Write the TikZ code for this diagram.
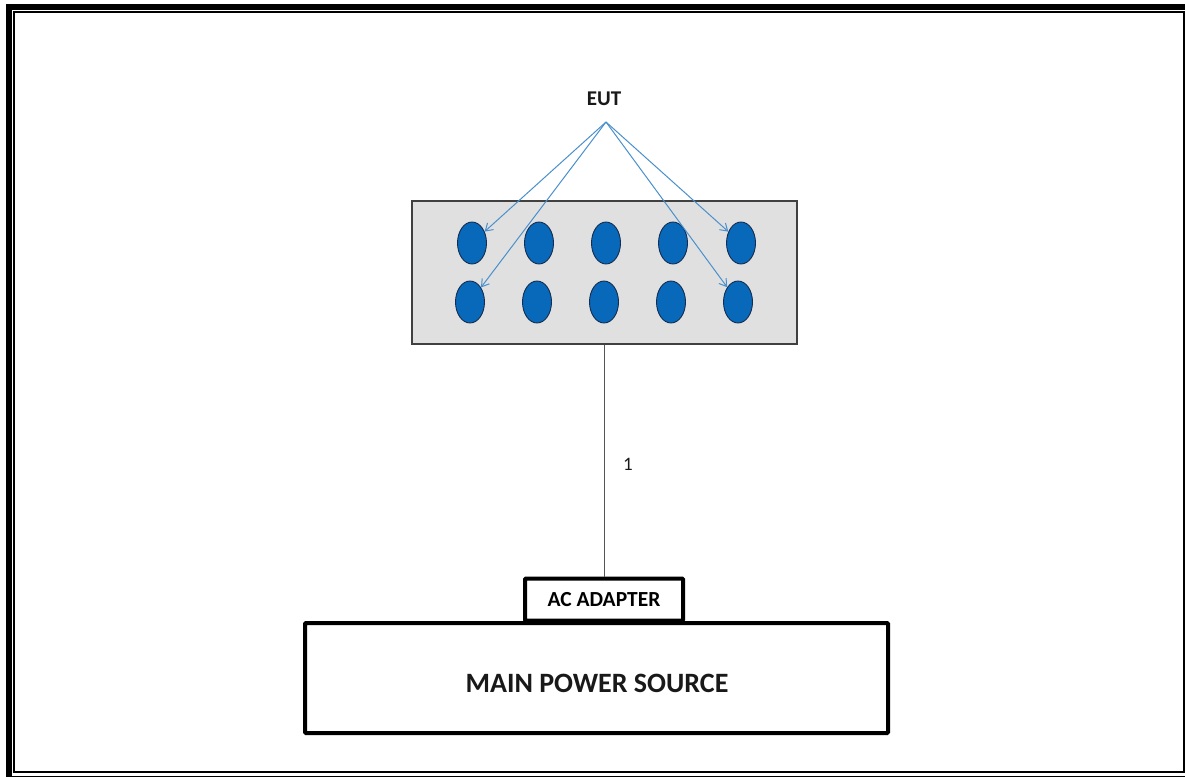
\documentclass[tikz,border=0pt]{standalone}
\usepackage{fontspec}
\setmainfont{Carlito}
\usetikzlibrary{shapes.geometric,arrows.meta}
\definecolor{arrowblue}{RGB}{74,144,205}
\definecolor{dotblue}{RGB}{8,104,186}
\definecolor{dotedge}{RGB}{20,45,80}
\definecolor{panelfill}{RGB}{224,224,224}
\definecolor{paneledge}{RGB}{64,64,64}
\definecolor{wire}{RGB}{85,85,85}
\tikzset{
  dot/.style={ellipse, draw=dotedge, line width=0.9pt, fill=dotblue, minimum width=29pt, minimum height=42pt, inner sep=0pt},
  eutarrow/.style={draw=arrowblue, line width=1pt, -{Straight Barb[length=7pt,width=9pt]}},
  heavybox/.style={draw=black, line width=4pt, rounded corners=1pt, fill=white, inner sep=0pt},
  lbl/.style={text=black!90}
}
\begin{document}
\begin{tikzpicture}[x=1pt,y=-1pt]
\useasboundingbox (0,0) rectangle (1185,776);
\clip (0,0) rectangle (1185,776);
\fill[white] (0,0) rectangle (1185,776);
% page border
\draw[line width=6pt] (8.5,7) rectangle (1195,778.5);
\draw[line width=2pt] (14,12) rectangle (1183.5,771.5);
% panel
\node[draw=paneledge, line width=1.5pt, fill=panelfill, minimum width=385pt, minimum height=143pt, inner sep=0pt] (panel) at (604.5,272.5) {};
% dots
\foreach \i/\xt/\xb in {1/472/470,2/539/537,3/606/604,4/673/671,5/741/738}{
  \node[dot] (t\i) at (\xt,243) {};
  \node[dot] (b\i) at (\xb,302) {};
}
% EUT
\node[lbl, font=\bfseries\fontsize{21}{25}\selectfont] (eut) at (604,99) {EUT};
\coordinate (src) at (606,122);
\draw[eutarrow] (src) -- (t1);
\draw[eutarrow] (src) -- (b1);
\draw[eutarrow] (src) -- (t5);
\draw[eutarrow] (src) -- (b5);
% main power source & adapter
\node[heavybox, minimum width=583pt, minimum height=110pt] (main) at (596.5,678) {};
\node[lbl, font=\bfseries\fontsize{28}{32}\selectfont] (mainlbl) at (597,683) {MAIN POWER SOURCE};
\node[heavybox, minimum width=158pt, minimum height=42pt, font=\bfseries\fontsize{21.5}{25}\selectfont] (ac) at (604,599.5) {AC ADAPTER};
\draw[wire, line width=1.5pt] (panel.south -| 604.5,0) -- (ac.north -| 604.5,0);
\node[lbl, font=\fontsize{19}{22}\selectfont] (one) at (628,464) {1};
\end{tikzpicture}
\end{document}
